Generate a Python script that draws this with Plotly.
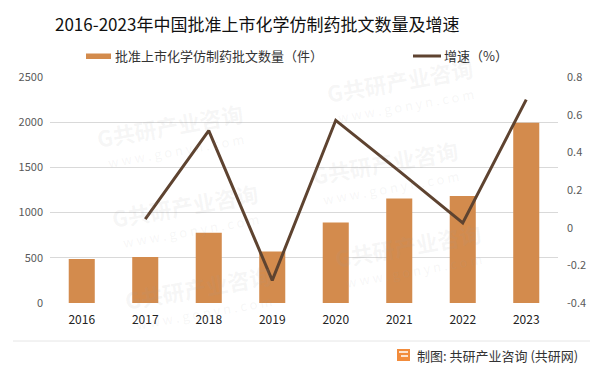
import plotly.graph_objects as go

years = ["2016", "2017", "2018", "2019", "2020", "2021", "2022", "2023"]
approvals = [488, 510, 778, 570, 890, 1155, 1185, 1995]
growth_years = ["2017", "2018", "2019", "2020", "2021", "2022", "2023"]
growth = [0.045, 0.515, -0.28, 0.57, 0.30, 0.025, 0.68]
y2_ticks = [-0.4, -0.2, 0, 0.2, 0.4, 0.6, 0.8]
y2_labels = ["-0.4", "-0.2", "0", "0.2", "0.4", "0.6", "0.8"]

BAR = "#D38B4D"
LINE = "#5E4330"
FONT = "Noto Sans CJK SC"

W, H = 602, 374
L, R, T, B = 50, 558, 77, 303


def px(x):
    return (x - L) / (R - L)


def py(y):
    return (B - y) / (B - T)


def note(x, y, text, size, color, xanchor="center", angle=0, bold=False):
    return dict(x=px(x), y=py(y), xref="paper", yref="paper", xanchor=xanchor, yanchor="middle",
                text=("<b>%s</b>" % text) if bold else text, showarrow=False, textangle=angle,
                font=dict(family=FONT, size=size, color=color))


fig = go.Figure()
fig.add_trace(go.Bar(x=years, y=approvals, marker=dict(color=BAR, line=dict(width=0)),
                     name="批准上市化学仿制药批文数量（件）", showlegend=False))
fig.add_trace(go.Scatter(x=growth_years, y=growth, mode="lines", yaxis="y2",
                         line=dict(color=LINE, width=3), name="增速（%）", showlegend=False))

annotations = []
shapes = []

# watermarks
WM = "rgba(160,160,160,0.10)"
wm = [(170, 125), (185, 205), (198, 287), (385, 162), (408, 245), (400, 80)]
for (cx, cy) in wm:
    annotations.append(note(cx, cy, "G共研产业咨询", 22, WM, angle=-10, bold=True))
    annotations.append(note(cx + 6, cy + 25, "w w w . g o n y n . c o m", 13, WM, angle=-10))

# title
annotations.append(note(257, 24, "2016-2023年中国批准上市化学仿制药批文数量及增速", 17, "#111111"))
# legend
shapes.append(dict(type="rect", xref="paper", yref="paper", x0=px(86), x1=px(111), y0=py(53.5), y1=py(59), fillcolor=BAR, line=dict(width=0)))
annotations.append(note(113, 56, "批准上市化学仿制药批文数量（件）", 13, "#333333", xanchor="left"))
shapes.append(dict(type="line", xref="paper", yref="paper", x0=px(413), x1=px(441), y0=py(56), y1=py(56), line=dict(color=LINE, width=3)))
annotations.append(note(442, 56, "增速（%）", 13, "#333333", xanchor="left"))
# footer
shapes.append(dict(type="line", xref="paper", yref="paper", x0=px(13), x1=px(590), y0=py(341), y1=py(341), line=dict(color="#E6E6E6", width=1)))
shapes.append(dict(type="rect", xref="paper", yref="paper", x0=px(397), x1=px(410), y0=py(349), y1=py(361), fillcolor="#F28C3C", line=dict(width=0)))
shapes.append(dict(type="line", xref="paper", yref="paper", x0=px(399), x1=px(408), y0=py(352), y1=py(352), line=dict(color="white", width=1.5)))
shapes.append(dict(type="line", xref="paper", yref="paper", x0=px(401), x1=px(408), y0=py(356), y1=py(356), line=dict(color="white", width=1.5)))
annotations.append(note(415, 355, "制图: 共研产业咨询 (共研网)", 13, "#333333", xanchor="left"))

fig.update_layout(
    width=W, height=H,
    margin=dict(l=L, r=W - R, t=T, b=H - B, pad=0),
    paper_bgcolor="white", plot_bgcolor="white",
    bargap=0.59,
    showlegend=False,
    font=dict(family=FONT, size=11, color="#595959"),
    xaxis=dict(type="category", showgrid=False, showline=False, ticks="",
               tickfont=dict(size=12, color="#222222"), ticklabelstandoff=8),
    yaxis=dict(range=[0, 2500], dtick=500, showgrid=True, gridcolor="#D9D9D9", gridwidth=1,
               zeroline=False, showline=False, ticks="", tickfont=dict(size=11, color="#595959"),
               ticklabelstandoff=6),
    yaxis2=dict(overlaying="y", side="right", range=[-0.4, 0.8], tickvals=y2_ticks, ticktext=y2_labels,
                showgrid=False, zeroline=False, showline=False, ticks="",
                tickfont=dict(size=11, color="#595959"), ticklabelstandoff=8),
    annotations=annotations,
    shapes=shapes,
)

fig.write_html("out.html", config={"displayModeBar": False},
               post_script="document.body.style.margin='0';document.body.style.overflow='hidden';")
